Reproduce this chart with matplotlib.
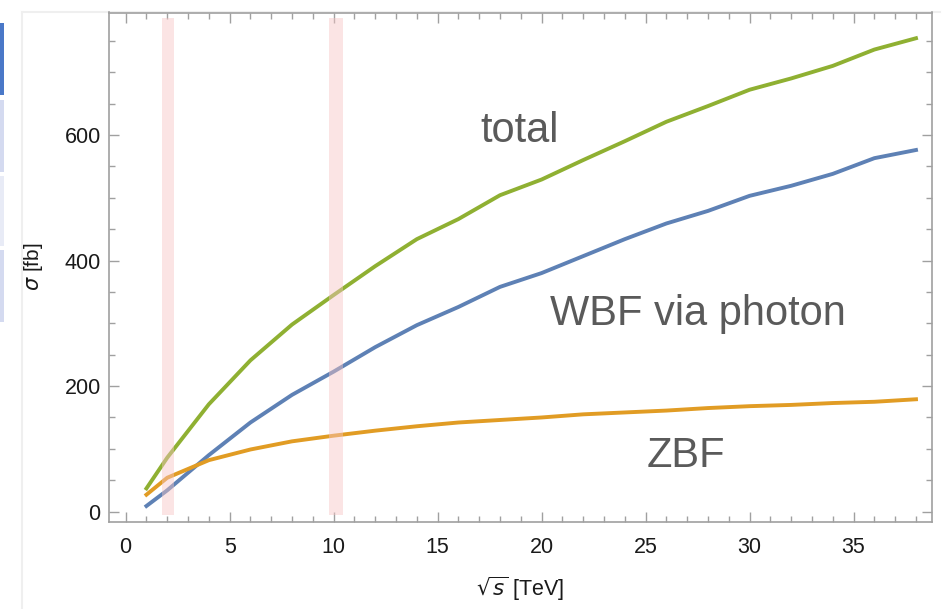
import matplotlib
matplotlib.use('Agg')
import matplotlib.pyplot as plt
from matplotlib.lines import Line2D
from matplotlib.patches import Rectangle
from matplotlib.ticker import MultipleLocator

plt.rcParams['font.family'] = ['Liberation Sans', 'DejaVu Sans']

# values
sqrt_s = [1, 2, 4, 6, 8, 10, 12, 14, 16, 18, 20, 22, 24, 26, 28, 30, 32, 34, 36, 38]
wbf_photon = [9, 34, 90, 142, 186, 223, 262, 297, 326, 358, 380, 407, 434, 459, 479, 503, 519, 538, 563, 576]
zbf = [27, 54, 82, 99, 112, 121, 129, 136, 142, 146, 150, 155, 158, 161, 165, 168, 170, 173, 175, 179]
total = [37, 86, 171, 241, 298, 345, 391, 434, 466, 504, 529, 560, 590, 621, 646, 672, 690, 710, 736, 754]

band_lo = [1.74, 9.8]
band_hi = [2.32, 10.45]

W, H = 946, 609
fig = plt.figure(figsize=(W / 100, H / 100), dpi=100)


def fx(px):
    return px / W


def fy(py):
    return 1 - py / H


# bits of the surrounding notebook UI
side = [(23, 95, '#4a78c8'), (100, 172, '#d4daf0'), (176, 246, '#e8ebf6'), (250, 322, '#d4daf0')]
for y0, y1, c in side:
    fig.add_artist(Rectangle((0, fy(y1)), fx(3.5), fy(y0) - fy(y1),
                             transform=fig.transFigure, color=c, lw=0))
fig.add_artist(Line2D([fx(22), fx(22)], [0, fy(12)], transform=fig.transFigure,
                      color='#efefef', lw=1.5, zorder=0))
fig.add_artist(Line2D([fx(22), fx(940)], [fy(12), fy(12)], transform=fig.transFigure,
                      color='#efefef', lw=1.5, zorder=0))

ax = fig.add_axes([fx(109), fy(521.7), fx(932) - fx(109), fy(12.5) - fy(521.7)])

ax.plot(sqrt_s, wbf_photon, color='#5e81b5', lw=2.8)
ax.plot(sqrt_s, zbf, color='#e19c24', lw=2.8)
ax.plot(sqrt_s, total, color='#8fb032', lw=2.8)

for lo, hi in zip(band_lo, band_hi):
    ax.fill_betweenx([-5, 786], lo, hi, color='#f7c4c4', alpha=0.45, lw=0, zorder=3)

ax.text(18.92, 589, 'total', fontsize=30, color='#5a5a5a', ha='center', va='baseline')
ax.text(20.4, 297, 'WBF via photon', fontsize=30, color='#5a5a5a', ha='left', va='baseline')
ax.text(25.06, 71, 'ZBF', fontsize=30, color='#5a5a5a', ha='left', va='baseline')

ax.set_xlim(-0.8, 38.77)
ax.set_ylim(-16, 795)
ax.xaxis.set_major_locator(MultipleLocator(5))
ax.xaxis.set_minor_locator(MultipleLocator(1))
ax.yaxis.set_major_locator(MultipleLocator(200))
ax.yaxis.set_minor_locator(MultipleLocator(50))

for s in ax.spines.values():
    s.set_color('#a0a0a0')
    s.set_linewidth(1.2)
ax.tick_params(which='both', direction='in', top=True, right=True, color='#a0a0a0',
               labelsize=15.5, labelcolor='#1a1a1a', width=1.0)
ax.tick_params(which='major', length=7)
ax.tick_params(which='minor', length=4.5)
ax.tick_params(axis='x', pad=11)
ax.tick_params(axis='y', pad=6)

ax.set_xlabel(r'$\sqrt{s}$ [TeV]', fontsize=15.5, color='#1a1a1a')
ax.set_ylabel(r'$\sigma$ [fb]', fontsize=15, color='#1a1a1a')
ax.xaxis.set_label_coords(0.5, -0.105)
ax.yaxis.set_label_coords(-0.078, 0.5)

fig.savefig('out.png', dpi=100)
